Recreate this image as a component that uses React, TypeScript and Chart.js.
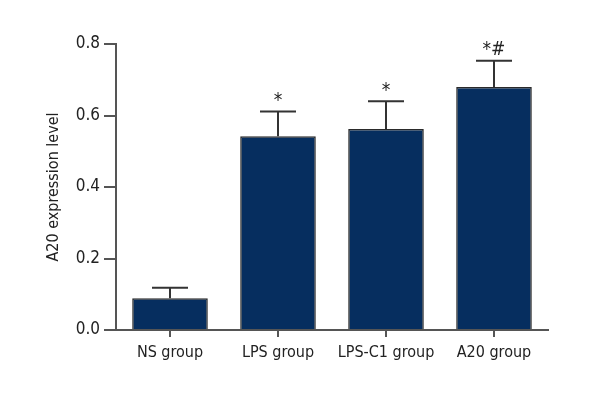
import React, { useEffect, useRef } from "react";
import { Chart, registerables } from "chart.js";

Chart.register(...registerables);

const categories = ["NS group", "LPS group", "LPS-C1 group", "A20 group"];
const means = [0.089, 0.542, 0.562, 0.68];
const errors = [0.029, 0.069, 0.078, 0.073];
const marks = ["", "*", "*", "*#"];
const yTicks = [0, 0.2, 0.4, 0.6, 0.8];

const FONT = "'DejaVu Sans Condensed', 'Liberation Sans Narrow', 'Liberation Sans', sans-serif";

const errorBarPlugin = {
  id: "errorBars",
  afterDatasetsDraw(chart: any) {
    const { ctx, scales } = chart;
    const x = scales.x;
    const y = scales.y;
    ctx.save();
    ctx.strokeStyle = "#333333";
    ctx.lineWidth = 2;
    means.forEach((m, i) => {
      const cx = x.getPixelForValue(i);
      const yTop = y.getPixelForValue(m + errors[i]);
      const yBar = y.getPixelForValue(m);
      const half = 18;
      ctx.beginPath();
      ctx.moveTo(cx, yBar);
      ctx.lineTo(cx, yTop);
      ctx.moveTo(cx - half, yTop);
      ctx.lineTo(cx + half, yTop);
      ctx.stroke();
      if (marks[i]) {
        ctx.fillStyle = "#222222";
        ctx.font = "19px " + FONT;
        ctx.textAlign = "center";
        ctx.textBaseline = "bottom";
        ctx.fillText(marks[i], cx, yTop - 1);
      }
    });
    ctx.restore();
  },
};

export default function App() {
  const ref = useRef<HTMLCanvasElement | null>(null);
  useEffect(() => {
    if (!ref.current) return;
    const chart = new Chart(ref.current, {
      type: "bar",
      data: {
        labels: categories,
        datasets: [
          {
            data: means,
            backgroundColor: "#062e5f",
            borderColor: "#2a2a2a",
            borderWidth: 1.5,
            barPercentage: 0.7,
            categoryPercentage: 1,
          },
        ],
      },
      options: {
        responsive: false,
        animation: false,
        layout: { padding: { left: 0, right: 52, top: 44, bottom: 0 } },
        plugins: { legend: { display: false }, tooltip: { enabled: false } },
        scales: {
          x: {
            grid: {
              offset: false,
              drawOnChartArea: false,
              drawTicks: true,
              tickLength: 7,
              color: "#555555",
              lineWidth: 2,
            },
            border: { color: "#555555", width: 2 },
            ticks: {
              color: "#222222",
              font: { family: FONT, size: 16 },
              padding: 6,
              maxRotation: 0,
              autoSkip: false,
            },
            afterFit(scale: any) {
              scale.height = 70;
            },
          },
          y: {
            min: 0,
            max: 0.8,
            afterBuildTicks(scale: any) {
              scale.ticks = yTicks.map((v) => ({ value: v }));
            },
            grid: {
              drawOnChartArea: false,
              drawTicks: true,
              tickLength: 12,
              color: "#555555",
              lineWidth: 2,
            },
            border: { color: "#555555", width: 2 },
            ticks: {
              color: "#222222",
              font: { family: FONT, size: 17 },
              padding: 4,
              callback: (v: any) => Number(v).toFixed(1),
            },
            title: {
              display: true,
              text: "A20 expression level",
              color: "#222222",
              font: { family: FONT, size: 16 },
              padding: { top: 44, bottom: 0 },
            },
            afterFit(scale: any) {
              scale.width = 116;
            },
          },
        },
      },
      plugins: [errorBarPlugin],
    });
    return () => chart.destroy();
  }, []);
  return (
    <div style={{ position: "absolute", left: 0, top: 0, width: 600, height: 400, background: "#fff" }}>
      <canvas ref={ref} width={600} height={400} />
    </div>
  );
}
